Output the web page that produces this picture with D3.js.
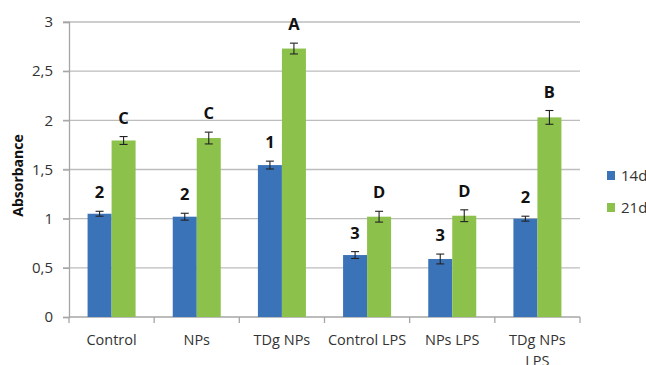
<!DOCTYPE html>
<html>
<head>
<meta charset="utf-8">
<script src="https://cdn.jsdelivr.net/npm/d3@7/dist/d3.min.js"></script>
<style>
  html, body { margin: 0; padding: 0; background: #fff; }
  svg { display: block; font-family: "Open Sans", "Liberation Sans", sans-serif; }
</style>
</head>
<body>
<svg id="chart" width="646" height="365"></svg>
<script>
// Treatment groups on the x axis
const categories = ["Control", "NPs", "TDg NPs", "Control LPS", "NPs LPS", "TDg NPs LPS"];
const series = ["14d", "21d"];

// Mean absorbance per group
const values14d = [1.05, 1.02, 1.545, 0.63, 0.59, 1.00];
const values21d = [1.795, 1.82, 2.73, 1.02, 1.03, 2.03];

// Error (± half-range) per group
const errors14d = [0.025, 0.035, 0.04, 0.035, 0.05, 0.025];
const errors21d = [0.04, 0.06, 0.055, 0.055, 0.06, 0.07];

// Significance letters drawn above each bar
const labels14d = ["2", "2", "1", "3", "3", "2"];
const labels21d = ["C", "C", "A", "D", "D", "B"];

const yTicks = [0, 0.5, 1, 1.5, 2, 2.5, 3];
const yTickLabels = ["0", "0,5", "1", "1,5", "2", "2,5", "3"];

const colors = { "14d": "#3A73B8", "21d": "#8CC14C" };

const svg = d3.select("#chart");
const margin = { left: 69, right: 66, top: 22, bottom: 48 };
const W = 646, H = 365;
const plotLeft = margin.left, plotRight = W - margin.right;
const plotTop = margin.top, plotBottom = H - margin.bottom;

const x0 = d3.scaleBand().domain(categories).range([plotLeft, plotRight]).padding(0);
const x1 = d3.scaleBand().domain(series).range([0, x0.bandwidth()])
  .paddingInner(0).paddingOuter(0.774);
const y = d3.scaleLinear().domain([0, 3]).range([plotBottom, plotTop]);

const rows = categories.map((c, i) => ({
  cat: c,
  items: [
    { s: "14d", v: values14d[i], e: errors14d[i], lab: labels14d[i] },
    { s: "21d", v: values21d[i], e: errors21d[i], lab: labels21d[i] }
  ]
}));

// Horizontal gridlines
svg.append("g")
  .selectAll("line")
  .data(yTicks.filter(t => t > 0))
  .join("line")
  .attr("x1", plotLeft - 6).attr("x2", plotRight)
  .attr("y1", d => y(d)).attr("y2", d => y(d))
  .attr("stroke", "#bdbdbd").attr("stroke-width", 1.3);

// Y axis
const yAxis = d3.axisLeft(y).tickValues(yTicks)
  .tickFormat((d, i) => yTickLabels[i]).tickSize(6).tickPadding(10);
const gy = svg.append("g").attr("transform", `translate(${plotLeft},0)`).call(yAxis);
gy.select(".domain").attr("stroke", "#a6a6a6").attr("stroke-width", 1.3);
gy.selectAll(".tick line").attr("stroke", "#a6a6a6").attr("stroke-width", 1.3);
gy.selectAll(".tick text").attr("font-size", 15).attr("fill", "#333")
  .attr("font-family", "Open Sans, sans-serif");

// X axis with ticks at category boundaries
const gx = svg.append("g").attr("transform", `translate(0,${plotBottom})`);
gx.append("line").attr("x1", plotLeft).attr("x2", plotRight)
  .attr("stroke", "#a6a6a6").attr("stroke-width", 1.3);
const bounds = categories.map(c => x0(c)).concat([x0(categories[categories.length - 1]) + x0.bandwidth()]);
gx.selectAll("line.tk").data(bounds).join("line").attr("class", "tk")
  .attr("x1", d => d).attr("x2", d => d).attr("y1", 0).attr("y2", 6)
  .attr("stroke", "#a6a6a6").attr("stroke-width", 1.3);

// Category labels (wrapped when too long)
gx.selectAll("text.cat").data(categories).join("text").attr("class", "cat")
  .attr("text-anchor", "middle").attr("font-size", 14.5).attr("fill", "#333")
  .each(function (d) {
    const t = d3.select(this);
    const cx = x0(d) + x0.bandwidth() / 2;
    const lines = d === "TDg NPs LPS" ? ["TDg NPs", "LPS"] : [d];
    lines.forEach((ln, k) => {
      t.append("tspan").attr("x", cx).attr("y", 28 + k * 21).text(ln);
    });
  });

// Bars, error bars and significance labels
const groups = svg.append("g").selectAll("g").data(rows).join("g")
  .attr("transform", d => `translate(${x0(d.cat)},0)`);

groups.selectAll("rect").data(d => d.items).join("rect")
  .attr("x", d => x1(d.s)).attr("width", x1.bandwidth())
  .attr("y", d => y(d.v)).attr("height", d => y(0) - y(d.v))
  .attr("fill", d => colors[d.s]);

const capW = 4;
groups.selectAll("g.err").data(d => d.items).join("g").attr("class", "err")
  .each(function (d) {
    const g = d3.select(this);
    const cx = x1(d.s) + x1.bandwidth() / 2;
    const yt = y(d.v + d.e), yb = y(d.v - d.e);
    g.append("line").attr("x1", cx).attr("x2", cx).attr("y1", yt).attr("y2", yb);
    g.append("line").attr("x1", cx - capW).attr("x2", cx + capW).attr("y1", yt).attr("y2", yt);
    g.append("line").attr("x1", cx - capW).attr("x2", cx + capW).attr("y1", yb).attr("y2", yb);
  })
  .selectAll("line").attr("stroke", "#222").attr("stroke-width", 1.1);

groups.selectAll("text.sig").data(d => d.items).join("text").attr("class", "sig")
  .attr("x", d => x1(d.s) + x1.bandwidth() / 2)
  .attr("y", d => y(d.v + d.e) - 13)
  .attr("text-anchor", "middle").attr("font-size", 16.5).attr("font-weight", "bold")
  .attr("fill", "#111")
  .text(d => d.lab);

// Y axis title
svg.append("text")
  .attr("transform", `translate(23,${(plotTop + plotBottom) / 2 + 6}) rotate(-90)`)
  .attr("text-anchor", "middle").attr("font-size", 14).attr("font-weight", "bold")
  .attr("fill", "#111").text("Absorbance");

// Legend
const legend = svg.append("g").attr("transform", "translate(607,171)");
const li = legend.selectAll("g").data(series).join("g")
  .attr("transform", (d, i) => `translate(0,${i * 32})`);
li.append("rect").attr("width", 8).attr("height", 9).attr("fill", d => colors[d]);
li.append("text").attr("x", 14).attr("y", 5).attr("dy", "0.35em")
  .attr("font-size", 15).attr("fill", "#333").text(d => d);
</script>
</body>
</html>
